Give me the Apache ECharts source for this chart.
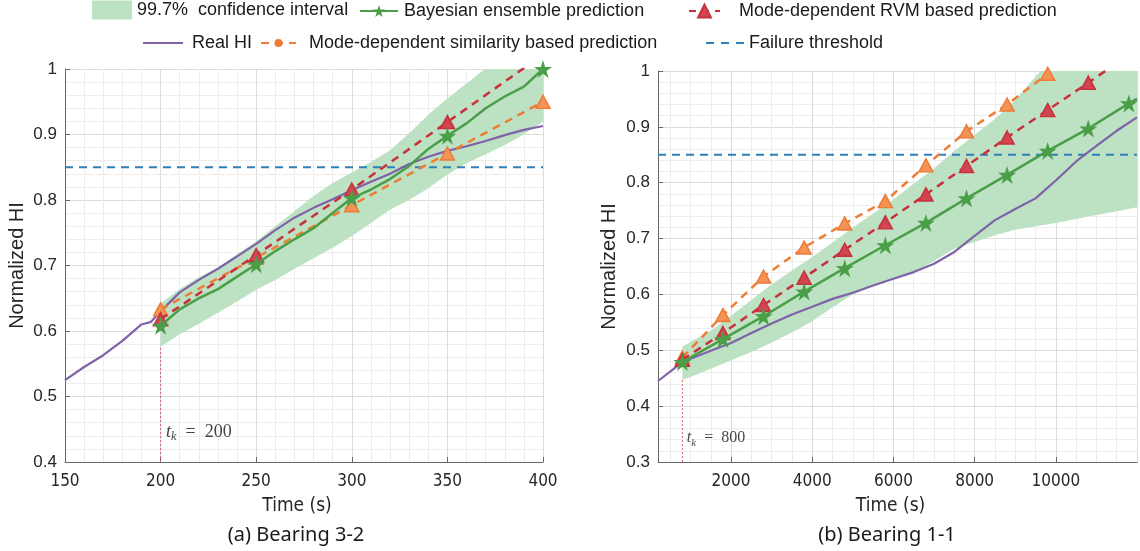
<!DOCTYPE html>
<html><head><meta charset="utf-8">
<script src="https://cdn.jsdelivr.net/npm/echarts@6/dist/echarts.min.js"></script>
<style>html,body{margin:0;padding:0;background:#fff}#c{width:1140px;height:551px}</style>
</head><body><div id="c"></div>
<script>
// ---------- (a) Bearing 3-2 ----------
const aRealT  = [150,160,170,180,190,195,200,210,220,230,240,250,260,270,280,290,300,310,320,330,340,350,360,370,380,390,400];
const aRealHI = [0.525,0.545,0.563,0.585,0.610,0.614,0.630,0.659,0.678,0.695,0.714,0.733,0.754,0.773,0.788,0.801,0.815,0.828,0.840,0.855,0.866,0.875,0.882,0.890,0.899,0.907,0.913];
const aPredT  = [200,210,220,230,240,250,260,270,280,290,300,310,320,330,340,350,360,370,380,390,400];
const aBayes  = [0.608,0.633,0.650,0.664,0.683,0.702,0.722,0.740,0.757,0.780,0.803,0.816,0.832,0.852,0.878,0.898,0.917,0.940,0.958,0.973,1.000];
const aCiUp   = [0.642,0.664,0.682,0.697,0.717,0.737,0.760,0.783,0.806,0.826,0.842,0.858,0.876,0.902,0.930,0.955,0.978,1.001,1.025,1.045,1.065];
const aCiLow  = [0.576,0.595,0.611,0.628,0.645,0.663,0.678,0.695,0.711,0.727,0.745,0.765,0.785,0.800,0.818,0.839,0.856,0.870,0.884,0.900,0.920];
const aMarkT  = [200,250,300,350,400];
const aRvm    = [0.618,0.716,0.816,0.919,1.022];
const aSim    = [0.633,0.712,0.792,0.871,0.950];
const aTk = 200, aXRange = [150,400], aYRange = [0.4,1];

// ---------- (b) Bearing 1-1 ----------
const bRealT  = [200,500,800,1000,1500,2000,2500,3000,3500,4000,4500,5000,5500,6000,6500,7000,7500,8000,8500,9000,9500,10000,10500,11000,11500,12000];
const bRealHI = [0.445,0.462,0.479,0.485,0.499,0.513,0.531,0.548,0.564,0.578,0.592,0.603,0.616,0.628,0.640,0.655,0.676,0.705,0.733,0.753,0.772,0.804,0.838,0.866,0.893,0.917];
const bMarkT  = [800,1800,2800,3800,4800,5800,6800,7800,8800,9800,10800,11800];
const bBayesT = [800,1800,2800,3800,4800,5800,6800,7800,8800,9800,10800,11800,12000];
const bBayes  = [0.479,0.520,0.561,0.605,0.647,0.688,0.728,0.772,0.814,0.857,0.897,0.942,0.950];
const bRvmT   = [800,1800,2800,3800,4800,5800,6800,7800,8800,9800,10800,11800];
const bRvm    = [0.483,0.531,0.581,0.630,0.680,0.729,0.779,0.830,0.881,0.930,0.979,1.029];
const bSimT   = [800,1800,2800,3800,4800,5800,6800,7800,8800,9800];
const bSim    = [0.487,0.563,0.632,0.684,0.727,0.767,0.831,0.892,0.940,0.995];
const bCiT    = [800,1000,1500,2000,2500,3000,3500,4000,4500,5000,5500,6000,6500,7000,7500,8000,8500,9000,9500,10000,10500,11000,11500,12000];
const bCiUp   = [0.507,0.515,0.535,0.562,0.590,0.618,0.643,0.667,0.693,0.720,0.745,0.770,0.798,0.826,0.857,0.886,0.914,0.948,0.990,1.030,1.060,1.090,1.120,1.150];
const bCiLow  = [0.447,0.452,0.467,0.482,0.497,0.514,0.532,0.552,0.577,0.600,0.615,0.627,0.640,0.660,0.682,0.694,0.706,0.716,0.722,0.728,0.735,0.742,0.749,0.756];
const bTk = 800, bXRange = [200,12000], bYRange = [0.3,1];

const threshold = 0.85;

// ---------- styles ----------
const C = {band:'#bde2c3', green:'#4a9e48', red:'#c8313c', redFill:'#cf4650', orange:'#f07b35', orangeFill:'#f39358',
           purple:'#7f62a8', blue:'#2f7fb8', tk:'#d9607a', axis:'#666', text:'#262626'};
const STAR = 'path://M50,0 L61.17,34.63 L97.55,34.55 L68.07,55.87 L79.39,90.45 L50,69 L20.61,90.45 L31.93,55.87 L2.45,34.55 L38.83,34.63 Z';
const N = {ci:'99.7%  confidence interval', bayes:'Bayesian ensemble prediction', rvm:'Mode-dependent RVM based prediction',
           real:'Real HI', sim:'Mode-dependent similarity based prediction', thr:'Failure threshold'};
const SANS = "'Liberation Sans', Arial, sans-serif";
const NARROW = "'Liberation Sans Narrow', 'DejaVu Sans Condensed', sans-serif";
const SERIF = "'Liberation Serif', 'DejaVu Serif', serif";

const pairs = (xs, ys) => xs.map((x, i) => [x, ys[i]]);
const marked = (xs, ys, marks) => xs.map((x, i) => marks.indexOf(x) >= 0 ? [x, ys[i]] : {value: [x, ys[i]], symbol: 'none'});

function band(xs, lo, up, gi) {
  return {type: 'custom', name: N.ci, xAxisIndex: gi, yAxisIndex: gi, clip: true, silent: true, z: 1,
    itemStyle: {color: C.band},
    data: [[xs[0], lo[0]]],
    renderItem: function (params, api) {
      const pts = [];
      for (let i = 0; i < xs.length; i++) pts.push(api.coord([xs[i], up[i]]));
      for (let i = xs.length - 1; i >= 0; i--) pts.push(api.coord([xs[i], lo[i]]));
      return {type: 'polygon', shape: {points: pts}, style: {fill: C.band}};
    }};
}
const bayesStyle = {symbol: STAR, symbolSize: 18, lineStyle: {color: C.green, width: 2.5}, itemStyle: {color: C.green}, z: 7};
const rvmStyle = {symbol: 'triangle', symbolSize: [14, 13], lineStyle: {color: C.red, width: 2.5, type: [8, 6]},
                  itemStyle: {color: C.redFill, borderColor: C.red, borderWidth: 1.5}, z: 6};
const simStyle = {symbol: 'triangle', symbolSize: [14, 13], lineStyle: {color: C.orange, width: 2.5, type: [8, 6]},
                  itemStyle: {color: C.orangeFill, borderColor: C.orange, borderWidth: 1.5}, z: 5};

function plotSeries(gi, d) {
  const base = {xAxisIndex: gi, yAxisIndex: gi, silent: true};
  return [
    band(d.ciT, d.ciLow, d.ciUp, gi),
    Object.assign({type: 'line', name: 'tk', data: [[d.tk, d.yRange[0]], [d.tk, d.ciLow[0]]], symbol: 'none',
      lineStyle: {color: C.tk, width: 1, type: [2, 2]}, z: 2}, base),
    Object.assign({type: 'line', name: N.thr, data: [[d.xRange[0], threshold], [d.xRange[1], threshold]], symbol: 'none',
      lineStyle: {color: C.blue, width: 2, type: [8, 6]}, z: 3}, base),
    Object.assign({type: 'line', name: N.real, data: pairs(d.realT, d.realHI), symbol: 'none',
      lineStyle: {color: C.purple, width: 2.2}, z: 4}, base),
    Object.assign({type: 'line', name: N.sim, data: pairs(d.simT, d.sim)}, simStyle, base),
    Object.assign({type: 'line', name: N.rvm, data: pairs(d.rvmT, d.rvm)}, rvmStyle, base),
    Object.assign({type: 'line', name: N.bayes, data: marked(d.bayesT, d.bayes, d.markT)}, bayesStyle, base),
    Object.assign({type: 'scatter', name: 'tkLabel', data: [[d.tk, d.labelY]], symbolSize: 1,
      itemStyle: {color: 'transparent'}, z: 10,
      label: {show: true, position: 'right', distance: d.labelGap, formatter: '{t|t}{k|k}{e|  =  ' + d.tk + '}',
        rich: {t: {fontFamily: SERIF, fontStyle: 'italic', fontSize: d.fs, color: '#111', lineHeight: 22},
               k: {fontFamily: SERIF, fontStyle: 'italic', fontSize: d.fs * 0.68, color: '#111', lineHeight: 22, verticalAlign: 'bottom'},
               e: {fontFamily: SERIF, fontSize: d.fs, color: '#111', lineHeight: 22}}}}, base)
  ];
}

// legend-only series (empty) to fix the legend glyphs
const dummy = (name, o) => Object.assign({type: 'line', name: name, data: [], silent: true}, o);
const legendSeries = [
  dummy(N.bayes, {symbol: STAR, lineStyle: {color: C.green, width: 2.5}, itemStyle: {color: C.green}}),
  dummy(N.rvm, {symbol: 'triangle', lineStyle: {color: C.red, width: 2.5, type: [7, 6]}, itemStyle: {color: C.redFill, borderColor: C.red, borderWidth: 1.5}}),
  dummy(N.real, {symbol: 'none', lineStyle: {color: C.purple, width: 2}}),
  dummy(N.sim, {symbol: 'circle', lineStyle: {color: C.orange, width: 2.5, type: [8, 6]}, itemStyle: {color: C.orange}}),
  dummy(N.thr, {symbol: 'none', lineStyle: {color: C.blue, width: 2, type: [8, 7]}})
];

function lg(left, top, w, h, item, pad) {
  return {left: left, top: top, itemWidth: w, itemHeight: h, padding: 0, itemGap: 0, selectedMode: false, data: [item],
    textStyle: {fontSize: 18, fontFamily: SANS, color: '#1a1a1a', lineHeight: 20, padding: [0, 0, 0, pad]}};
}

const plain = v => String(v);
function xAx(gi, range, extra) {
  return Object.assign({gridIndex: gi, type: 'value', min: range[0], max: range[1],
    axisLine: {show: true, onZero: false, lineStyle: {color: C.axis, width: 1}},
    axisTick: {show: true, inside: true, length: 5, lineStyle: {color: C.axis}},
    axisLabel: {fontSize: 17, fontFamily: NARROW, color: C.text, margin: 11, formatter: plain},
    splitLine: {show: true, lineStyle: {color: '#dcdcdc'}},
    minorSplitLine: {show: true, lineStyle: {color: '#ededed'}},
    name: 'Time (s)', nameLocation: 'middle', nameGap: 35,
    nameTextStyle: {fontSize: 19, fontFamily: NARROW, color: C.text, padding: [0, 14, 0, 0]}}, extra);
}
function yAx(gi, range, gap) {
  return {gridIndex: gi, type: 'value', min: range[0], max: range[1], interval: 0.1,
    axisLine: {show: true, onZero: false, lineStyle: {color: C.axis, width: 1}},
    axisTick: {show: true, inside: true, length: 5, lineStyle: {color: C.axis}},
    axisLabel: {fontSize: 17, fontFamily: SANS, color: C.text, margin: 8},
    splitLine: {show: true, lineStyle: {color: '#dcdcdc'}},
    minorTick: {show: false, splitNumber: 5},
    minorSplitLine: {show: true, lineStyle: {color: '#ededed'}},
    name: 'Normalized HI', nameLocation: 'middle', nameGap: gap,
    nameTextStyle: {fontSize: 20, fontFamily: SANS, color: C.text}};
}

const option = {
  animation: false,
  backgroundColor: '#fff',
  grid: [
    {left: 65, top: 69, width: 478, height: 393},
    {left: 658, top: 71, width: 479, height: 391}
  ],
  legend: [
    lg(92, 0, 40, 19, {name: N.ci, icon: 'rect'}, 0),
    lg(359, 1, 38, 15, {name: N.bayes}, 1),
    lg(688, 1, 31, 16, {name: N.rvm}, 14),
    lg(142, 33, 40, 10, {name: N.real, itemStyle: {opacity: 0}}, 4),
    lg(260, 33, 35, 10, {name: N.sim}, 8),
    lg(705, 33, 38, 10, {name: N.thr, itemStyle: {opacity: 0}}, 0)
  ],
  xAxis: [
    xAx(0, aXRange, {interval: 50, minorTick: {show: false, splitNumber: 5}}),
    xAx(1, bXRange, {splitNumber: 5, minorTick: {show: false, splitNumber: 4},
      axisLabel: {fontSize: 17, fontFamily: NARROW, color: C.text, margin: 11, formatter: plain, showMinLabel: false, showMaxLabel: false}})
  ],
  yAxis: [yAx(0, aYRange, 38), yAx(1, bYRange, 39)],
  graphic: [
    {type: 'text', x: 296, y: 535, style: {text: '(a) Bearing 3-2', fontSize: 20, fontFamily: "'Noto Sans', sans-serif", fill: '#1a1a1a', align: 'center', verticalAlign: 'middle'}},
    {type: 'text', x: 887, y: 535, style: {text: '(b) Bearing 1-1', fontSize: 20, fontFamily: "'Noto Sans', sans-serif", fill: '#1a1a1a', align: 'center', verticalAlign: 'middle'}}
  ],
  series: legendSeries
    .concat(plotSeries(0, {ciT: aPredT, ciLow: aCiLow, ciUp: aCiUp, tk: aTk, xRange: aXRange, yRange: aYRange,
      realT: aRealT, realHI: aRealHI, simT: aMarkT, sim: aSim, rvmT: aMarkT, rvm: aRvm, bayesT: aPredT, bayes: aBayes,
      markT: aMarkT, labelY: 0.446, labelGap: 5, fs: 18}))
    .concat(plotSeries(1, {ciT: bCiT, ciLow: bCiLow, ciUp: bCiUp, tk: bTk, xRange: bXRange, yRange: bYRange,
      realT: bRealT, realHI: bRealHI, simT: bSimT, sim: bSim, rvmT: bRvmT, rvm: bRvm, bayesT: bBayesT, bayes: bBayes,
      markT: bMarkT, labelY: 0.343, labelGap: 4, fs: 16}))
};

const chart = echarts.init(document.getElementById('c'), null, {renderer: 'canvas'});
chart.setOption(option);
</script></body></html>
